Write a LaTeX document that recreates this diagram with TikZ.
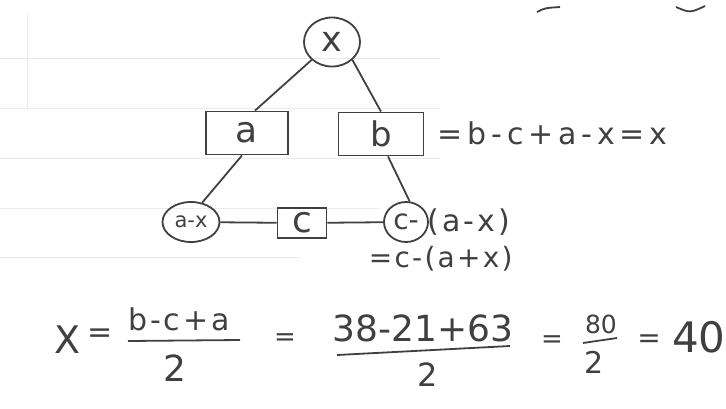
\documentclass[tikz,border=0pt]{standalone}
\usepackage{fontspec}
\setmainfont{DejaVu Sans}
\usetikzlibrary{positioning, shapes.geometric}

\begin{document}
\begin{tikzpicture}[x=1pt, y=-1pt, line width=1.8pt, black!75,
        hand/.style={font=\fontsize{#1}{#1}\selectfont, inner sep=0pt},
        wide/.style={execute at begin node=\addfontfeature{LetterSpace=#1}},
        varnode/.style={draw, ellipse, minimum width=56pt, minimum height=49pt, inner sep=0pt},
        valbox/.style={draw, rectangle, minimum width=82pt, minimum height=43pt, inner sep=0pt},
        ruling/.style={black!8, line width=0.6pt}]
        \useasboundingbox (0,0) rectangle (726,408);

        % faint paper lines
        \foreach \yy/\xx in {58/440, 108/440, 158/440, 208/380, 257/300}
            \draw[ruling] (0,\yy) -- (\xx,\yy);
        \draw[ruling] (27,15) -- (27,110);

        % cut-off strokes at the top
        \draw (537,12) .. controls (545,8) .. (560,7);
        \draw (676,7) .. controls (690,13) .. (705,6);

        % tree
        \node[varnode, hand=35] (x)   at (332, 42)  {x};
        \node[valbox, hand=36]  (a)   at (247, 133) {a};
        \node[valbox, minimum width=85pt, hand=34] (b) at (381, 134) {b};
        \node[hand=30, wide=16, anchor=west] (beq) at (437, 133) {=b-c+a-x=x};

        \node[draw, ellipse, minimum width=57pt, minimum height=40pt, hand=21]
              (ax)  at (191, 222) {a-x};
        \node[valbox, minimum width=49pt, minimum height=30pt, hand=36]
              (c)   at (302, 223) {c};
        \node[draw, ellipse, minimum width=44pt, minimum height=40pt, hand=28]
              (cm)  at (406, 222) {c-};
        \node[hand=30, wide=10, anchor=west] (cpar) at ([xshift=-2pt]cm.east) {(a-x)};
        \node[hand=28, wide=8, anchor=west] (ceq)  at (368, 259) {=c-(a+x)};

        \draw (x.south west) -- ([xshift=8pt]a.north);
        \draw (x.south east) -- (b.north);
        \draw ([xshift=-5pt]a.south) -- (ax.60);
        \draw ([xshift=7pt]b.south) -- (cm.80);
        \draw (ax) -- (c);
        \draw (c) -- (cm);

        % solving for x
        \node[hand=38] (X)    at (68, 340)  {X};
        \node[hand=30] (eq1)  at (100, 336) {=};
        \node[hand=30, wide=10] (num1) at (179, 319) {b-c+a};
        \node[hand=36] (den1) at (175, 368) {2};
        \coordinate (bar1l) at (128, 341);
        \coordinate (bar1r) at (240, 340);
        \draw (bar1l) -- (bar1r);

        \node[hand=26] (eq2)  at (285, 340) {=};
        \node[hand=36] (num2) at (423, 328) {38-21+63};
        \node[hand=32] (den2) at (428, 375) {2};
        \coordinate (bar2l) at (337, 355);
        \coordinate (bar2r) at (510, 346);
        \draw (bar2l) -- (bar2r);

        \node[hand=26] (eq3)  at (552, 342) {=};
        \node[hand=25] (num3) at (601, 324) {80};
        \node[hand=30] (den3) at (594, 362) {2};
        \coordinate (bar3l) at (583, 343);
        \coordinate (bar3r) at (617, 338);
        \draw (bar3l) -- (bar3r);

        \node[hand=28] (eq4)  at (649, 341) {=};
        \node[hand=42] (res)  at (699, 337) {40};
    \end{tikzpicture}
\end{document}
